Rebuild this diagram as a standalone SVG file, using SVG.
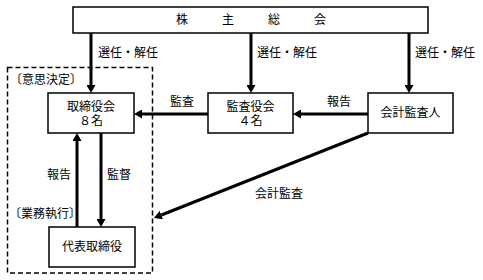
<svg xmlns="http://www.w3.org/2000/svg" width="483" height="280" viewBox="0 0 483 280">
<style>
text { font-family: "Liberation Serif", "Noto Sans CJK JP", serif; font-size: 12px; fill: #000; }
.box { fill: #fff; stroke: #000; stroke-width: 1.5; }
.dash { fill: none; stroke: #000; stroke-width: 1.5; stroke-dasharray: 5 3; }
.conn { fill: none; stroke: #000; stroke-width: 3; }
.c { text-anchor: middle; }
</style>
<defs>
<marker id="ah" markerUnits="userSpaceOnUse" markerWidth="8" markerHeight="9" refX="0" refY="4.5" orient="auto">
<path d="M0,0 L8,4.5 L0,9 z" fill="#000"/>
</marker>
</defs>
<rect width="483" height="280" fill="#fff"/>
<g id="group-decision">
<rect class="dash" x="7.5" y="67.5" width="145" height="205.5"/>
<text x="10" y="84">〔意思決定〕</text>
<text x="9" y="218">〔業務執行〕</text>
</g>
<g id="connectors">
<line class="conn" x1="91" y1="33" x2="91" y2="85" marker-end="url(#ah)"/>
<line class="conn" x1="251" y1="33" x2="251" y2="85" marker-end="url(#ah)"/>
<line class="conn" x1="409" y1="33" x2="409" y2="85" marker-end="url(#ah)"/>
<line class="conn" x1="208" y1="114" x2="142" y2="114" marker-end="url(#ah)"/>
<line class="conn" x1="368" y1="114" x2="301" y2="114" marker-end="url(#ah)"/>
<line class="conn" x1="77" y1="227" x2="77" y2="141" marker-end="url(#ah)"/>
<line class="conn" x1="101" y1="133" x2="101" y2="219" marker-end="url(#ah)"/>
<line class="conn" x1="368" y1="133" x2="161.4" y2="215" marker-end="url(#ah)"/>
<text x="98" y="57">選任・解任</text>
<text x="257" y="57">選任・解任</text>
<text x="415" y="57">選任・解任</text>
<text x="170" y="106">監査</text>
<text x="327" y="106">報告</text>
<text x="47" y="179">報告</text>
<text x="107" y="179">監督</text>
<text x="255" y="198">会計監査</text>
</g>
<g id="shareholders">
<rect class="box" x="73" y="7" width="355" height="26"/>
<text x="176" y="24" letter-spacing="34">株主総会</text>
</g>
<g id="board">
<rect class="box" x="48" y="93" width="86" height="40"/>
<text class="c" x="91" y="111">取締役会</text>
<text class="c" x="91" y="125">８名</text>
</g>
<g id="auditors">
<rect class="box" x="208" y="93" width="85" height="40"/>
<text class="c" x="250.5" y="111">監査役会</text>
<text class="c" x="250.5" y="125">４名</text>
</g>
<g id="accounting-auditor">
<rect class="box" x="368" y="93" width="85" height="40"/>
<text class="c" x="410.5" y="117">会計監査人</text>
</g>
<g id="representative">
<rect class="box" x="49" y="227" width="86" height="40"/>
<text class="c" x="92" y="251">代表取締役</text>
</g>
</svg>
